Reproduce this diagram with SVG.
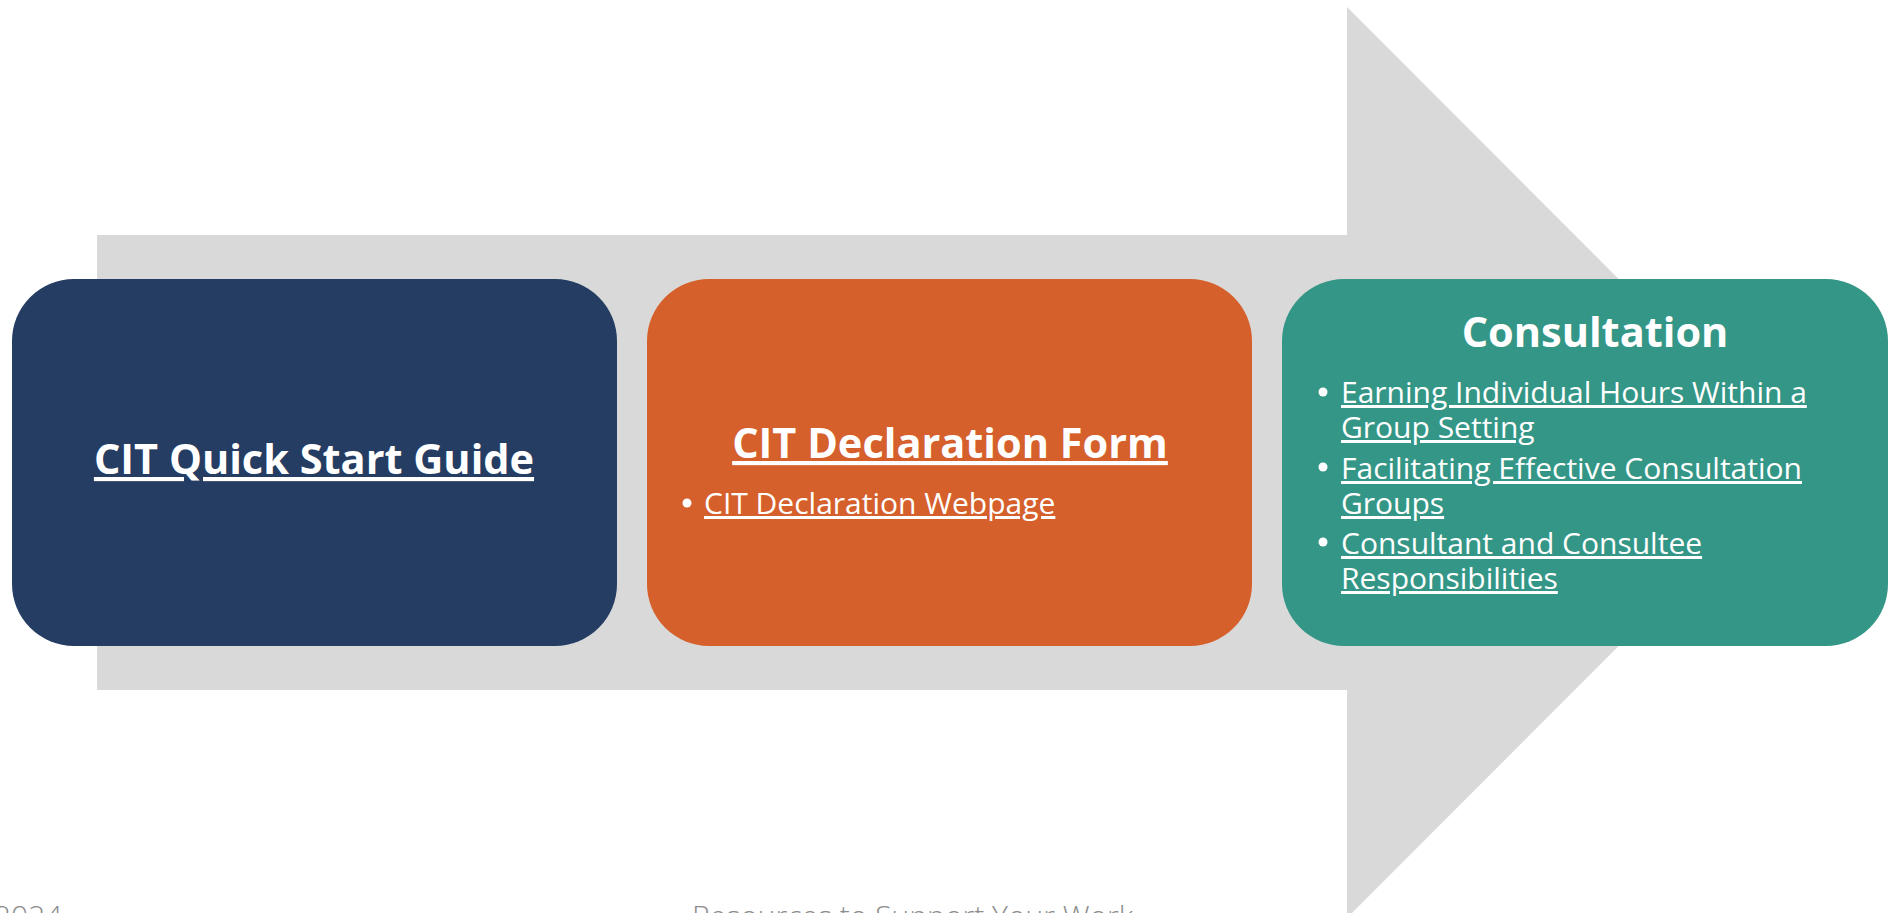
<svg xmlns="http://www.w3.org/2000/svg" width="1888" height="913" viewBox="0 0 1888 913">
  <style>
    .box { stroke: none; }
    .title { font-family: "Open Sans", "Liberation Sans", sans-serif; font-weight: 700; font-size: 41.5px; fill: #ffffff; }
    .item { font-family: "Open Sans", "Liberation Sans", sans-serif; font-weight: 400; font-size: 30px; fill: #ffffff; }
    .link { text-decoration: underline; }
    .dot { fill: #ffffff; }
    .footer { font-family: "Open Sans", "Liberation Sans", sans-serif; font-weight: 300; font-size: 30px; fill: #8c8c8c; }
  </style>
  <rect width="1888" height="913" fill="#ffffff"/>
  <g id="connectors">
    <polygon points="97,235 1347,235 1347,7 1802,462.5 1347,918 1347,690 97,690" fill="#d9d9d9"/>
  </g>
  <g id="node-quick-start">
    <rect class="box" x="12" y="279" width="605" height="367" rx="62" ry="62" fill="#253d62"/>
    <text class="title link" x="314" y="474" text-anchor="middle">CIT Quick Start Guide</text>
  </g>
  <g id="node-declaration">
    <rect class="box" x="647" y="279" width="605" height="367" rx="62" ry="62" fill="#d6602c"/>
    <text class="title link" x="950" y="458" text-anchor="middle">CIT Declaration Form</text>
    <circle class="dot" cx="687" cy="503" r="4.5"/>
    <text class="item link" x="704" y="514">CIT Declaration Webpage</text>
  </g>
  <g id="node-consultation">
    <rect class="box" x="1282" y="279" width="606" height="367" rx="62" ry="62" fill="#349686"/>
    <text class="title" x="1595" y="347" text-anchor="middle">Consultation</text>
    <circle class="dot" cx="1323" cy="392" r="4.5"/>
    <text class="item link" x="1341" y="403">Earning Individual Hours Within a</text>
    <text class="item link" x="1341" y="438">Group Setting</text>
    <circle class="dot" cx="1323" cy="467" r="4.5"/>
    <text class="item link" x="1341" y="479">Facilitating Effective Consultation</text>
    <text class="item link" x="1341" y="514">Groups</text>
    <circle class="dot" cx="1323" cy="542" r="4.5"/>
    <text class="item link" x="1341" y="554">Consultant and Consultee</text>
    <text class="item link" x="1341" y="589">Responsibilities</text>
  </g>
  <g id="footer">
    <text class="footer" x="-6" y="927">2024</text>
    <text class="footer" x="692" y="927">Resources to Support Your Work</text>
  </g>
</svg>
